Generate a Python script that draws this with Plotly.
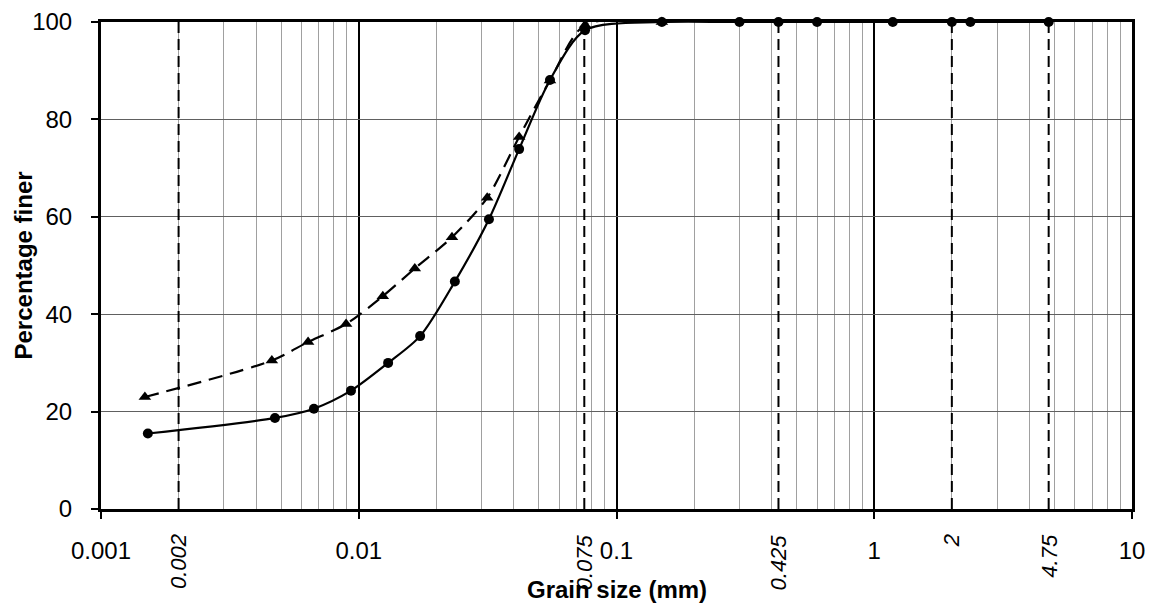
import math
import plotly.graph_objects as go

# ---- data ----
circle_size_mm = [0.00152, 0.00473, 0.0067, 0.00933, 0.013, 0.0173, 0.0236, 0.032,
                  0.0419, 0.0552, 0.0755, 0.15, 0.3, 0.425, 0.6, 1.18, 2, 2.36, 4.75]
circle_finer = [15.5, 18.7, 20.6, 24.3, 30.0, 35.5, 46.7, 59.5,
                73.9, 88.1, 98.3, 100, 100, 100, 100, 100, 100, 100, 100]

triangle_size_mm = [0.00148, 0.0046, 0.00636, 0.00893, 0.0124, 0.0165, 0.023, 0.0315,
                    0.0419, 0.0552, 0.0755, 0.15]
triangle_finer = [23.0, 30.5, 34.3, 38.0, 43.7, 49.4, 55.8, 63.9,
                  76.4, 88.0, 99.4, 100]

sieve_sizes = [0.002, 0.075, 0.425, 2, 4.75]
sieve_labels = ["0.002", "0.075", "0.425", "2", "4.75"]

x_tick_vals = [0.001, 0.01, 0.1, 1, 10]
x_tick_text = ["0.001", "0.01", "0.1", "1", "10"]
y_tick_vals = [0, 20, 40, 60, 80, 100]

x_title = "Grain size (mm)"
y_title = "Percentage finer"

minor_vals = [m * d for d in [0.001, 0.01, 0.1, 1] for m in range(2, 10)]

FONT = "Arial, Liberation Sans, sans-serif"

fig = go.Figure()

fig.add_trace(go.Scatter(
    x=triangle_size_mm, y=triangle_finer, mode="lines+markers",
    line=dict(color="black", width=2.2, dash="14px,8px", shape="spline", smoothing=0.8),
    marker=dict(symbol="triangle-up", size=11, color="black"),
    cliponaxis=False, showlegend=False))

fig.add_trace(go.Scatter(
    x=circle_size_mm, y=circle_finer, mode="lines+markers",
    line=dict(color="black", width=2.2, shape="spline", smoothing=0.8),
    marker=dict(symbol="circle", size=10, color="black"),
    cliponaxis=False, showlegend=False))

for s, lab in zip(sieve_sizes, sieve_labels):
    fig.add_shape(type="line", xref="x", yref="y", x0=s, x1=s, y0=0, y1=100,
                  line=dict(color="black", width=2, dash="11px,6px"), layer="above")
    fig.add_annotation(x=math.log10(s), xref="x", y=0, yref="paper",
                       text="<i>" + lab + "</i>", textangle=-90, showarrow=False,
                       yanchor="top", yshift=-23,
                       font=dict(family=FONT, size=22, color="black"))

# axis titles
fig.add_annotation(x=0.5, xref="paper", y=0, yref="paper", text="<b>" + x_title + "</b>",
                   showarrow=False, xanchor="center", yanchor="middle", yshift=-80,
                   font=dict(family=FONT, size=24, color="black"))
fig.add_annotation(x=0, xref="paper", y=0.5, yref="paper", text="<b>" + y_title + "</b>",
                   textangle=-90, showarrow=False, xanchor="center", yanchor="middle",
                   xshift=-78, font=dict(family=FONT, size=24, color="black"))

fig.update_layout(
    width=1152, height=604,
    margin=dict(l=101, r=20, t=22, b=95),
    paper_bgcolor="white", plot_bgcolor="white",
    font=dict(family=FONT, size=24, color="black"),
    xaxis=dict(
        type="log", range=[-3, 1],
        tickvals=x_tick_vals, ticktext=x_tick_text,
        ticks="outside", ticklen=7, tickwidth=2, tickcolor="black",
        ticklabelstandoff=11,
        showgrid=True, gridcolor="black", gridwidth=2,
        showline=True, linecolor="black", linewidth=3, mirror=True,
        minor=dict(tickvals=minor_vals, showgrid=True, gridcolor="#a0a0a0",
                   gridwidth=1, ticks=""),
        tickfont=dict(size=24),
        zeroline=False, automargin=False,
    ),
    yaxis=dict(
        range=[0, 100], tickvals=y_tick_vals,
        ticks="outside", ticklen=7, tickwidth=2, tickcolor="black",
        ticklabelstandoff=14,
        showgrid=True, gridcolor="#606060", gridwidth=1,
        showline=True, linecolor="black", linewidth=3, mirror=True,
        tickfont=dict(size=24),
        zeroline=False, automargin=False,
    ),
)

fig.write_html("out.html")
